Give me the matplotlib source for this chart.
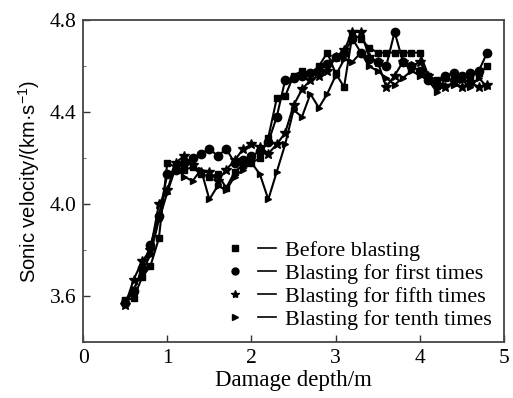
import numpy as np
import matplotlib
matplotlib.use("Agg")
import matplotlib.pyplot as plt
from matplotlib.lines import Line2D
from matplotlib.legend_handler import HandlerTuple
from matplotlib.ticker import MultipleLocator

plt.rcParams["font.family"] = ["Liberation Serif", "DejaVu Serif"]
plt.rcParams["mathtext.fontset"] = "custom"
plt.rcParams["mathtext.rm"] = "Liberation Sans"
plt.rcParams["mathtext.it"] = "Liberation Sans:italic"
plt.rcParams["font.size"] = 15.5

# damage depth (m)
depth = [0.5, 0.6, 0.7, 0.8, 0.9, 1.0, 1.1, 1.2, 1.3, 1.4, 1.5,
         1.6, 1.7, 1.8, 1.9, 2.0, 2.1, 2.2, 2.3, 2.4, 2.5,
         2.6, 2.7, 2.8, 2.9, 3.0, 3.1, 3.2, 3.3, 3.4, 3.5,
         3.6, 3.7, 3.8, 3.9, 4.0, 4.1, 4.2, 4.3, 4.4, 4.5,
         4.6, 4.7, 4.8]

before = [3.58, 3.59, 3.68, 3.73, 3.85, 4.18, 4.16, 4.15, 4.16, 4.13, 4.12,
          4.13, 4.07, 4.14, 4.17, 4.18, 4.20, 4.29, 4.46, 4.47, 4.56,
          4.58, 4.57, 4.60, 4.66, 4.57, 4.51, 4.74, 4.72, 4.68, 4.66,
          4.66, 4.66, 4.66, 4.66, 4.66, 4.56, 4.54, 4.55, 4.54, 4.55,
          4.56, 4.57, 4.60]

first = [3.57, 3.62, 3.72, 3.82, 3.95, 4.13, 4.15, 4.18, 4.20, 4.22, 4.24,
         4.21, 4.24, 4.18, 4.19, 4.21, 4.23, 4.27, 4.38, 4.54, 4.55,
         4.56, 4.57, 4.58, 4.61, 4.64, 4.66, 4.72, 4.66, 4.63, 4.62,
         4.60, 4.75, 4.62, 4.60, 4.58, 4.54, 4.52, 4.56, 4.57, 4.56,
         4.57, 4.58, 4.66]

fifth = [3.56, 3.67, 3.75, 3.80, 4.00, 4.06, 4.18, 4.21, 4.17, 4.14, 4.14,
         4.10, 4.15, 4.19, 4.24, 4.26, 4.25, 4.22, 4.26, 4.31, 4.43,
         4.50, 4.54, 4.56, 4.58, 4.64, 4.67, 4.75, 4.75, 4.64, 4.62,
         4.51, 4.56, 4.62, 4.60, 4.62, 4.56, 4.52, 4.51, 4.53, 4.51,
         4.53, 4.51, 4.52]

tenth = [3.58, 3.63, 3.70, 3.78, 3.93, 4.05, 4.16, 4.12, 4.10, 4.15, 4.02,
         4.08, 4.06, 4.12, 4.15, 4.18, 4.13, 4.02, 4.14, 4.26, 4.41,
         4.38, 4.48, 4.42, 4.48, 4.56, 4.63, 4.62, 4.66, 4.60, 4.58,
         4.55, 4.52, 4.55, 4.58, 4.56, 4.54, 4.49, 4.52, 4.52, 4.54,
         4.51, 4.55, 4.51]

series = [before, first, fifth, tenth]
labels = ["Before blasting", "Blasting for first times",
          "Blasting for fifth times", "Blasting for tenth times"]
markers = ["s", "o", "*", ">"]
msizes = [5, 6, 7, 5]

fig = plt.figure(figsize=(5.13, 3.98), dpi=100)
ax = fig.add_axes([0.162, 0.1415, 0.8205, 0.807])

handles = []
for s, lab, m, ms in zip(series, labels, markers, msizes):
    ax.plot(depth, s, color="black", lw=1.5, marker=m, ms=ms)
    h_m = Line2D([], [], color="black", marker=m, ls="none", ms=ms - 1)
    h_l = Line2D([], [], color="black", lw=1.2)
    handles.append((h_m, h_l))

ax.set_xlim(0, 5)
ax.set_ylim(3.4, 4.8)
ax.set_xticks([0, 1, 2, 3, 4, 5])
ax.set_yticks([3.6, 4.0, 4.4, 4.8])
ax.yaxis.set_minor_locator(MultipleLocator(0.2))
ax.tick_params(direction="in", length=5, width=1, colors="#333333",
               labelcolor="black", top=False, right=False, pad=5)
ax.tick_params(which="minor", direction="in", length=2.5, width=0.8,
               colors="#777777", left=True, right=False)
for sp in ax.spines.values():
    sp.set_linewidth(1.3)
    sp.set_color("#444444")

ax.set_xlabel("Damage depth/m", fontsize=16.5, labelpad=2)
ax.set_ylabel(r"Sonic velocity/(km·s$^{-1}$)", family=["Liberation Sans", "DejaVu Sans"],
              fontsize=14.5, labelpad=5)

ax.legend(handles, labels, handler_map={tuple: HandlerTuple(ndivide=None, pad=0.6)},
          loc="lower right", bbox_to_anchor=(1.0, 0.0), frameon=False,
          handlelength=2.3, handletextpad=0.4, labelspacing=0.12,
          borderaxespad=0.15, fontsize=15.8)

fig.savefig("out.png", dpi=100)
